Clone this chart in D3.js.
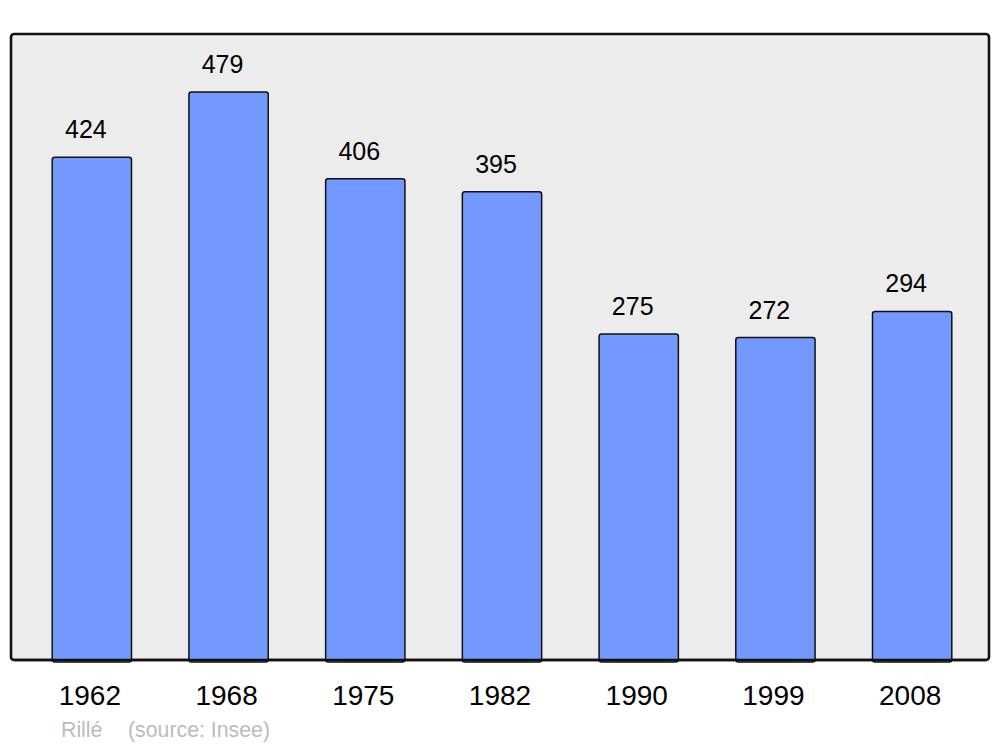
<!DOCTYPE html>
<html><head><meta charset="utf-8">
<script src="https://cdn.jsdelivr.net/npm/d3@7"></script>
<style>html,body{margin:0;padding:0;background:#fff}svg{display:block}</style>
</head><body>
<script>
const years = ["1962","1968","1975","1982","1990","1999","2008"];
const population = [424,479,406,395,275,272,294];
const footerPlace = "Rillé";
const footerSource = "(source: Insee)";

const W = 1000, H = 747;
const svg = d3.select("body").append("svg").attr("width", W).attr("height", H);
const font = "Liberation Sans, Arial, sans-serif";

svg.append("rect").attr("x", 11).attr("y", 34).attr("width", 978).attr("height", 626)
  .attr("rx", 3).attr("fill", "#ececec").attr("stroke", "#111").attr("stroke-width", 2.6);

const x = d3.scaleBand().domain(years).range([23.5, 980.5]).paddingInner(0.42).paddingOuter(0.21);
const y = d3.scaleLinear().domain([0, 528]).range([660, 34]);

const g = svg.append("g");
g.selectAll("rect.bar").data(years).join("rect").attr("class","bar")
  .attr("x", d => x(d)).attr("width", x.bandwidth())
  .attr("y", (d,i) => y(population[i])).attr("height", (d,i) => y(0) - y(population[i]) + 2)
  .attr("rx", 2.5).attr("fill", "#7399ff").attr("stroke", "#111").attr("stroke-width", 1.5);

// redraw panel bottom border over bars
svg.append("line").attr("x1", 14).attr("x2", 986).attr("y1", 660).attr("y2", 660)
  .attr("stroke", "#111").attr("stroke-width", 2.6);

g.selectAll("text.val").data(years).join("text").attr("class","val")
  .attr("x", d => x(d) + x.bandwidth()/2 - 6)
  .attr("y", (d,i) => y(population[i]) - 19)
  .attr("text-anchor", "middle").attr("font-family", font).attr("font-size", 25).attr("fill", "#000")
  .text((d,i) => population[i]);

g.selectAll("text.yr").data(years).join("text").attr("class","yr")
  .attr("x", d => x(d) + x.bandwidth()/2 - 2)
  .attr("y", 705)
  .attr("text-anchor", "middle").attr("font-family", font).attr("font-size", 28).attr("fill", "#000")
  .text(d => d);

svg.append("text").attr("x", 61).attr("y", 737).attr("font-family", font).attr("font-size", 21.3)
  .attr("fill", "#bbb").text(footerPlace);
svg.append("text").attr("x", 128).attr("y", 737).attr("font-family", font).attr("font-size", 21.3)
  .attr("fill", "#bbb").text(footerSource);
</script>
</body></html>
